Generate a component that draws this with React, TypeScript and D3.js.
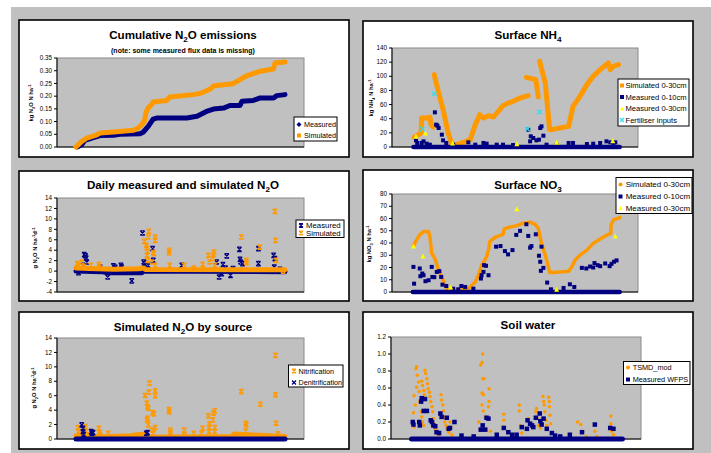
import React from 'react';
import * as d3 from 'd3';

type Pt = [number, number];
type Seg = (Pt | null)[];

// ---------- Shared x domain (day of experiment) ----------
const DAY_DOMAIN: [number, number] = [-30, 360];

// ---------- Panel 1: cumulative N2O ----------
const cumMeasured: Pt[] = [[2,0],[9,0.009],[14,0.026],[25,0.035],[38,0.045],[59,0.046],[69,0.05],[101,0.052],[106,0.058],[114,0.081],[122,0.11],[127,0.114],[175,0.114],[191,0.121],[206,0.14],[217,0.149],[233,0.153],[243,0.163],[259,0.163],[262,0.18],[280,0.183],[291,0.193],[312,0.193],[317,0.202],[330,0.206]];
const cumSimulated: Pt[] = [[0,0],[9,0.022],[17,0.035],[33,0.048],[38,0.055],[64,0.06],[91,0.066],[98,0.075],[104,0.088],[108,0.101],[111,0.14],[114,0.153],[119,0.166],[122,0.177],[143,0.183],[148,0.197],[185,0.206],[198,0.212],[212,0.228],[218,0.241],[248,0.249],[259,0.265],[269,0.28],[291,0.298],[312,0.307],[314,0.33],[330,0.334]];
const cumTicks = [0, 0.05, 0.1, 0.15, 0.2, 0.25, 0.3, 0.35];

// ---------- Panel 2: surface NH4 ----------
const nh4Simulated: Seg = [[5,13.7],[12,17.4],[16,19.8],[17,41],[25,41],[30,42.4],[32,31.6],[35,28.3],null,[37,102.3],[41,87],[51,53],[59,20],[65,3.3],[72,3.3],[88,8],[94,10.4],[102,31.6],[109,45.7],[115,41],[123,44.3],[131,42.4],[146,58.5],[152,61.3],[162,64.6],[173,69.3],[186,72.6],null,[183,98.5],[198,95.2],[202,70.7],null,[204,121.2],[213,90.5],[220,24.5],[223,24.5],[236,26.9],[250,29.2],[257,57.5],[268,71.7],[279,88.2],[289,100],[300,109.4],[313,118.8],[316,109.4],[321,114.1],[329,116.5]];
const nh4Measured10: Pt[] = [[8,9.4],[10,5.7],[17,5.7],[20,8],[25,4.7],[30,3.3],[38,49],[40,31.6],[42,30.2],[44,26.9],[49,17.4],[51,9.4],[56,5.7],[67,3.3],[91,6.6],[102,3.3],[115,5.7],[120,4.7],[136,3.3],[146,3.3],[162,2.8],[186,24.5],[189,8],[190,15.1],[194,12.7],[199,9.4],[203,10.4],[205,26.9],[207,29.2],[210,16],[215,3.3],[231,2.8],[250,5.7],[257,5.7],[279,4.2],[289,4.7],[300,5.7],[310,8],[316,6.6],[321,5.7],[324,6.6]];
const nh4Baseline10: Seg = [[4,0],[331,0]];
const nh4Measured30: Pt[] = [[8,15.1],[23,19.8],[66,5.7],[168,4.7],[231,6.6],[320,9]];
const nh4Fertiliser: Pt[] = [[18,25.5],[37,75.4],[185,25.5],[204,49.5]];
const nh4Ticks = [0, 20, 40, 60, 80, 100, 120, 140];

// ---------- Panel 3: daily N2O ----------
const dailyMeasured: Pt[] = [[4,-0.3],[11,1.1],[13,3.15],[15,2.9],[16,2.5],[17,1.74],[38,0.78],[50,-1.13],[59,1.0],[62,0.7],[71,1.1],[72,0.78],[88,-1.88],[105,7.3],[107,1.74],[108,1.42],[114,1.1],[121,4.3],[122,2.06],[167,1.1],[222,1.74],[226,-1.13],[230,-0.5],[232,1.23],[236,0.6],[238,2.9],[244,-0.81],[248,0.5],[258,4.17],[259,2.25],[260,1.74],[263,1.42],[288,1.42],[288,4.3],[312,3.0],[314,2.38],[313,0.78],[322,0.34]];
const dailyMeasuredBand: Seg = [[0,0],[40,-0.1],[50,-0.3],[104,-0.3],[106,0],[330,-0.1]];
const dailySimulated: Pt[] = [[2,1.42],[4,1.1],[9,1.74],[12,0.91],[23,1.1],[36,1.23],[37,0.78],[108,5.7],[111,4.93],[112,4.42],[113,3.78],[112,3.02],[113,2.06],[114,6.53],[115,7.6],[120,1.74],[122,3.53],[123,3.34],[125,6.53],[125,5.89],[125,1.1],[147,3.98],[147,3.53],[148,1.1],[171,1.1],[186,0.59],[200,1.3],[209,3.02],[211,1.74],[216,2.5],[217,3.15],[218,3.66],[219,1.1],[261,6.53],[269,2.06],[269,1.61],[290,4.61],[314,11.44],[315,5.89],[316,2.06],[327,0]];
const dailySimulatedBand: Seg = [[0,0.6],[20,0.5],[60,0.35],[100,0.45],[106,0.6],[110,0.3],[330,0.25]];
const dailyTicks = [-4, -2, 0, 2, 4, 6, 8, 10, 12, 14];

// ---------- Panel 4: surface NO3 ----------
const no3Simulated: Seg = [[4,37.8],[9,42.5],[14,46.6],[20,49.3],[28,49.3],[30,45.2],[33,31.5],[38,27.4],[43,19.2],[49,12.3],[54,5.5],[58,2.2],[65,1.4],[78,1.4],[88,2.2],[94,4.1],[102,8.2],[107,13.7],[112,21.9],[117,26],[120,28.8],[123,34.2],[125,41.1],[131,43.8],[136,45.2],[146,47.1],[148,51.5],[154,52.6],[168,54.2],[178,56.2],[189,57],[197,55.3],[202,52],[207,39.7],[213,30.1],[218,20.5],[220,15.9],[226,15.9],[250,17],[255,20.5],[260,26],[268,30.1],[279,34.2],[289,39.7],[300,43.3],[313,47.1],[317,47.9],[317,54.2],[321,58.9],[331,60.8]];
const no3Measured10: Pt[] = [[4,20.5],[5,6.8],[14,19.2],[15,12.9],[18,15.1],[20,13.7],[23,8.8],[28,9.6],[33,20.5],[34,12.3],[37,12.1],[41,16.4],[45,17],[48,12.3],[50,6],[56,4.9],[67,2.7],[75,2.2],[80,4.9],[86,4.1],[99,2.7],[111,11],[112,13.7],[115,16.4],[116,21.9],[119,21.4],[123,13.7],[135,37],[142,37.5],[149,33.4],[154,30.7],[161,34.2],[167,46.6],[173,49.9],[183,55.3],[186,45.8],[189,36.2],[191,37.5],[198,47.1],[203,29.6],[205,24.7],[206,17.3],[207,37],[210,19.7],[216,7.7],[222,2.2],[242,3.3],[252,6.3],[259,4.1],[271,19.7],[278,19.2],[284,20.8],[289,20],[291,23.6],[296,21.9],[300,21.1],[308,23.3],[315,21.1],[318,23],[322,24.7],[326,25.8]];
const no3Baseline10: Seg = [[3,0],[331,0]];
const no3Measured30: Pt[] = [[4,37.5],[19,29.3],[63,4.1],[168,67.9],[231,2.2],[324,45.8]];
const no3Ticks = [0, 10, 20, 30, 40, 50, 60, 70, 80];

// ---------- Panel 5: simulated N2O by source ----------
const nitrification: Pt[] = [[3,1.58],[4,1.02],[6,0.65],[15,1.72],[16,1.11],[17,0.56],[36,1.48],[37,0.93],[38,0.56],[51,0.79],[109,6.03],[112,4.96],[113,4.5],[114,4.27],[113,2.87],[112,2.64],[114,1.95],[115,6.49],[116,7.74],[120,1.25],[121,3.66],[123,3.48],[125,6.68],[125,5.98],[125,1.58],[122,0.79],[147,4.08],[147,3.8],[149,1.25],[149,0.93],[171,1.25],[171,0.56],[186,0.79],[198,0.79],[200,1.48],[209,3.2],[210,1.58],[210,1.02],[211,2.09],[216,2.64],[217,3.57],[219,3.89],[219,1.02],[219,1.58],[261,6.58],[268,1.11],[268,2.18],[269,1.95],[291,4.82],[315,11.59],[315,6.12],[316,2.18],[319,0.7]];
const nitrificationBand: Seg = [[0,0.4],[45,0.3],[88,0.45],[95,0.6],[108,0.65],[112,0.25],[245,0.35],[250,0.7],[280,0.55],[330,0.35]];
const denitrification: Pt[] = [[9,1.95],[11,1.48],[11,1.02],[12,0.65],[24,1.02],[25,0.79],[27,0.88],[111,0.79],[113,0.88]];
const denitrificationBand: Seg = [[0,0],[330,0]];
const sourceTicks = [0, 2, 4, 6, 8, 10, 12, 14];

// ---------- Panel 6: soil water ----------
const tsmdMod: Pt[] = [[5,0.31],[6,0.14],[6,0.51],[8,0.4],[9,0.83],[10,0.85],[10,0.61],[11,0.75],[13,0.67],[14,0.56],[15,0.44],[17,0.32],[18,0.26],[19,0.2],[21,0.16],[18,0.68],[19,0.63],[21,0.57],[22,0.52],[23,0.81],[24,0.77],[26,0.71],[27,0.65],[28,0.59],[30,0.55],[31,0.5],[32,0.44],[34,0.38],[35,0.32],[36,0.24],[37,0.18],[39,0.14],[40,0.11],[42,0.07],[44,0.05],[48,0.52],[49,0.46],[51,0.4],[52,0.33],[53,0.26],[54,0.2],[56,0.16],[57,0.12],[60,0.08],[62,0.2],[63,0.14],[65,0.05],[107,0.2],[110,0.87],[112,0.9],[113,1.0],[112,0.54],[114,0.52],[113,0.71],[115,0.71],[112,0.4],[114,0.33],[117,0.26],[118,0.12],[122,0.38],[123,0.44],[123,0.59],[125,0.09],[146,0.22],[146,0.29],[145,0.14],[170,0.4],[170,0.33],[172,0.16],[174,0.07],[184,0.24],[186,0.18],[196,0.32],[197,0.36],[198,0.24],[200,0.16],[203,0.13],[207,0.5],[208,0.44],[209,0.4],[210,0.32],[212,0.22],[213,0.16],[216,0.49],[217,0.44],[217,0.38],[218,0.28],[219,0.18],[221,0.07],[261,0.2],[266,0.17],[268,0.09],[275,0.03],[288,0.09],[291,0.03],[313,0.27],[313,0.18],[314,0.09],[317,0.05]];
const measuredWfps: Pt[] = [[4,0.2],[5,0.17],[14,0.2],[15,0.16],[17,0.44],[18,0.48],[21,0.33],[23,0.47],[26,0.33],[32,0.22],[34,0.2],[36,0.16],[39,0.15],[41,0.08],[45,0.07],[47,0.3],[49,0.26],[57,0.25],[60,0.12],[62,0.13],[69,0.2],[80,0.04],[99,0.03],[110,0.11],[113,0.16],[117,0.11],[119,0.25],[122,0.24],[135,0.05],[146,0.13],[153,0.08],[159,0.05],[166,0.05],[174,0.14],[182,0.12],[183,0.22],[187,0.18],[190,0.16],[192,0.14],[196,0.25],[202,0.3],[203,0.21],[205,0.17],[208,0.24],[213,0.12],[221,0.07],[226,0.04],[234,0.03],[249,0.05],[268,0.08],[288,0.17],[312,0.13],[317,0.12]];
const wfpsBaseline: Seg = [[2,0],[331,0]];
const waterTicks = [0, 0.2, 0.4, 0.6, 0.8, 1.0, 1.2];

// ---------- styling ----------
const FONT = "'Liberation Sans', Arial, Helvetica, sans-serif";
const ORANGE = '#FF9900';
const NAVY = '#000080';
const YELLOW = '#FFFF00';
const CYAN = '#33DDEE';
const GREY = '#C0C0C0';

type Shape = 'square' | 'diamond' | 'triangle' | 'x' | 'star' | 'circle';
type Part = [string, 'n' | 'sub' | 'sup'];
type Series =
  | { kind: 'line'; data: Seg; color: string; width: number }
  | { kind: 'marks'; data: Pt[]; color: string; shape: Shape; size: number };
type LegendEntry = { label: string; shape: Shape; color: string };

interface PanelCfg {
  frame: { x: number; y: number; w: number; h: number };
  plot: { x0: number; x1: number; y0: number; y1: number };
  yDomain: [number, number];
  ticks: number[];
  fmt: (v: number) => string;
  title: Part[];
  titlePos: [number, number];
  subtitle?: string;
  subtitlePos?: [number, number];
  yLabel?: Part[];
  yLabelPos?: [number, number];
  series: Series[];
  legend: { x: number; y: number; w: number; h: number; rows: number[]; mx: number; tx: number; fs: number; entries: LegendEntry[] };
}

function Marker({ shape, x, y, s, color }: { shape: Shape; x: number; y: number; s: number; color: string }) {
  const h = s / 2;
  switch (shape) {
    case 'square':
      return <rect x={x - h} y={y - h} width={s} height={s} fill={color} />;
    case 'diamond':
      return <path d={`M${x},${y - h - 0.5}L${x + h + 0.5},${y}L${x},${y + h + 0.5}L${x - h - 0.5},${y}Z`} fill={color} />;
    case 'triangle':
      return <path d={`M${x},${y - h}L${x + h},${y + h}L${x - h},${y + h}Z`} fill={color} />;
    case 'circle':
      return <circle cx={x} cy={y} r={h} fill={color} />;
    case 'x':
      return <path d={`M${x - h},${y - h}L${x + h},${y + h}M${x + h},${y - h}L${x - h},${y + h}`} stroke={color} strokeWidth={1.3} fill="none" />;
    case 'star':
      return <path d={`M${x - h},${y - h}L${x + h},${y + h}M${x + h},${y - h}L${x - h},${y + h}M${x - h},${y - h}L${x + h},${y - h}M${x - h},${y + h}L${x + h},${y + h}`} stroke={color} strokeWidth={1.2} fill="none" />;
  }
  return null;
}

function Rich({ x, y, parts, fs, bold, rotate }: { x: number; y: number; parts: Part[]; fs: number; bold?: boolean; rotate?: boolean }) {
  let cur = 0;
  const spans = parts.map((p, i) => {
    const target = p[1] === 'sub' ? fs * 0.3 : p[1] === 'sup' ? -fs * 0.4 : 0;
    const dy = target - cur;
    cur = target;
    return (
      <tspan key={i} dy={dy} fontSize={p[1] === 'n' ? fs : fs * 0.7}>
        {p[0]}
      </tspan>
    );
  });
  return (
    <text
      x={x}
      y={y}
      fontFamily={FONT}
      fontSize={fs}
      fontWeight={bold ? 'bold' : 'normal'}
      textAnchor="middle"
      transform={rotate ? `rotate(-90 ${x} ${y})` : undefined}
    >
      {spans}
    </text>
  );
}

function Panel({ cfg }: { cfg: PanelCfg }) {
  const { frame, plot } = cfg;
  const x = d3.scaleLinear().domain(DAY_DOMAIN).range([plot.x0, plot.x1]);
  const y = d3.scaleLinear().domain(cfg.yDomain).range([plot.y1, plot.y0]);
  const line = d3
    .line<Pt | null>()
    .defined((d) => d !== null)
    .x((d) => x((d as Pt)[0]))
    .y((d) => y((d as Pt)[1]));
  const lg = cfg.legend;
  return (
    <g>
      <rect x={frame.x} y={frame.y} width={frame.w} height={frame.h} fill="#fff" stroke="#000" strokeWidth={1.6} />
      <rect x={plot.x0} y={plot.y0} width={plot.x1 - plot.x0} height={plot.y1 - plot.y0} fill={GREY} stroke="#8a8a8a" strokeWidth={1} />
      <line x1={plot.x0} x2={plot.x0} y1={plot.y0} y2={plot.y1} stroke="#000" strokeWidth={1} />
      <line x1={plot.x0} x2={plot.x1} y1={plot.y1} y2={plot.y1} stroke="#000" strokeWidth={1} />
      {cfg.ticks.map((t) => (
        <g key={t}>
          <line x1={plot.x0 - 3} x2={plot.x0} y1={y(t)} y2={y(t)} stroke="#000" strokeWidth={1} />
          <text x={plot.x0 - 5} y={y(t)} dy="0.35em" textAnchor="end" fontFamily={FONT} fontSize={6.3}>
            {cfg.fmt(t)}
          </text>
        </g>
      ))}
      {cfg.series.map((s, i) =>
        s.kind === 'line' ? (
          <path key={i} d={line(s.data) || ''} fill="none" stroke={s.color} strokeWidth={s.width} strokeLinejoin="round" strokeLinecap="round" />
        ) : (
          <g key={i}>
            {s.data.map((d, j) => (
              <Marker key={j} shape={s.shape} x={x(d[0])} y={y(d[1])} s={s.size} color={s.color} />
            ))}
          </g>
        )
      )}
      <Rich x={cfg.titlePos[0]} y={cfg.titlePos[1]} parts={cfg.title} fs={11.6} bold />
      {cfg.subtitle && cfg.subtitlePos && (
        <text x={cfg.subtitlePos[0]} y={cfg.subtitlePos[1]} textAnchor="middle" fontFamily={FONT} fontSize={7} fontWeight="bold">
          {cfg.subtitle}
        </text>
      )}
      {cfg.yLabel && cfg.yLabelPos && <Rich x={cfg.yLabelPos[0]} y={cfg.yLabelPos[1]} parts={cfg.yLabel} fs={5.8} bold rotate />}
      <rect x={lg.x} y={lg.y} width={lg.w} height={lg.h} fill="#fff" stroke="#000" strokeWidth={1} />
      {lg.entries.map((e, i) => (
        <g key={i}>
          <Marker shape={e.shape} x={lg.mx} y={lg.rows[i]} s={4} color={e.color} />
          <text x={lg.tx} y={lg.rows[i]} dy="0.35em" fontFamily={FONT} fontSize={lg.fs}>
            {e.label}
          </text>
        </g>
      ))}
    </g>
  );
}

const fmt2 = (v: number) => v.toFixed(2);
const fmt1 = (v: number) => v.toFixed(1);
const fmt0 = (v: number) => String(v);

const panels: PanelCfg[] = [
  {
    frame: { x: 19, y: 20, w: 330, h: 137 },
    plot: { x0: 57, x1: 304, y0: 58, y1: 147 },
    yDomain: [0, 0.35],
    ticks: cumTicks,
    fmt: fmt2,
    title: [['Cumulative N', 'n'], ['2', 'sub'], ['O emissions', 'n']],
    titlePos: [183, 39],
    subtitle: '(note: some measured flux data is missing)',
    subtitlePos: [183, 53],
    yLabel: [['kg N', 'n'], ['2', 'sub'], ['O N ha', 'n'], ['-1', 'sup']],
    yLabelPos: [33, 103],
    series: [
      { kind: 'line', data: cumMeasured, color: NAVY, width: 5 },
      { kind: 'line', data: cumSimulated, color: ORANGE, width: 5 },
    ],
    legend: {
      x: 294, y: 117, w: 43, h: 24, rows: [124.5, 135.5], mx: 299, tx: 304, fs: 7.2,
      entries: [
        { label: 'Measured', shape: 'diamond', color: NAVY },
        { label: 'Simulated', shape: 'square', color: ORANGE },
      ],
    },
  },
  {
    frame: { x: 363, y: 21, w: 330, h: 136 },
    plot: { x0: 392, x1: 638, y0: 48, y1: 147 },
    yDomain: [0, 140],
    ticks: nh4Ticks,
    fmt: fmt0,
    title: [['Surface NH', 'n'], ['4', 'sub']],
    titlePos: [528, 39],
    yLabel: [['kg NH', 'n'], ['4', 'sub'], [' N ha', 'n'], ['-1', 'sup']],
    yLabelPos: [373, 98],
    series: [
      { kind: 'line', data: nh4Simulated, color: ORANGE, width: 5 },
      { kind: 'line', data: nh4Baseline10, color: NAVY, width: 4.5 },
      { kind: 'marks', data: nh4Measured10, color: NAVY, shape: 'square', size: 4 },
      { kind: 'marks', data: nh4Measured30, color: YELLOW, shape: 'triangle', size: 5 },
      { kind: 'marks', data: nh4Fertiliser, color: CYAN, shape: 'x', size: 4.5 },
    ],
    legend: {
      x: 618, y: 79, w: 71, h: 47, rows: [85.5, 97, 108.5, 120], mx: 622, tx: 625.5, fs: 7.6,
      entries: [
        { label: 'Simulated 0-30cm', shape: 'square', color: ORANGE },
        { label: 'Measured 0-10cm', shape: 'square', color: NAVY },
        { label: 'Measured 0-30cm', shape: 'triangle', color: YELLOW },
        { label: 'Fertiliser inputs', shape: 'x', color: CYAN },
      ],
    },
  },
  {
    frame: { x: 19, y: 171, w: 330, h: 130 },
    plot: { x0: 57, x1: 304, y0: 198, y1: 292 },
    yDomain: [-4, 14],
    ticks: dailyTicks,
    fmt: fmt0,
    title: [['Daily measured and simulated N', 'n'], ['2', 'sub'], ['O', 'n']],
    titlePos: [183, 189],
    yLabel: [['g N', 'n'], ['2', 'sub'], ['O N ha', 'n'], ['-1', 'sup'], ['d', 'n'], ['-1', 'sup']],
    yLabelPos: [37, 248],
    series: [
      { kind: 'line', data: dailyMeasuredBand, color: NAVY, width: 5 },
      { kind: 'marks', data: dailyMeasured, color: NAVY, shape: 'star', size: 4.5 },
      { kind: 'line', data: dailySimulatedBand, color: ORANGE, width: 5 },
      { kind: 'marks', data: dailySimulated, color: ORANGE, shape: 'star', size: 4.5 },
    ],
    legend: {
      x: 296, y: 220, w: 48, h: 17.5, rows: [225.5, 233], mx: 301, tx: 306, fs: 7.8,
      entries: [
        { label: 'Measured', shape: 'star', color: NAVY },
        { label: 'Simulated', shape: 'star', color: ORANGE },
      ],
    },
  },
  {
    frame: { x: 363, y: 170, w: 330, h: 131 },
    plot: { x0: 392, x1: 638, y0: 194, y1: 292 },
    yDomain: [0, 80],
    ticks: no3Ticks,
    fmt: fmt0,
    title: [['Surface NO', 'n'], ['3', 'sub']],
    titlePos: [528, 189],
    yLabel: [['kg NO', 'n'], ['3', 'sub'], [' N ha', 'n'], ['-1', 'sup']],
    yLabelPos: [371, 244],
    series: [
      { kind: 'line', data: no3Simulated, color: ORANGE, width: 3.5 },
      { kind: 'line', data: no3Baseline10, color: NAVY, width: 4.5 },
      { kind: 'marks', data: no3Measured10, color: NAVY, shape: 'square', size: 4 },
      { kind: 'marks', data: no3Measured30, color: YELLOW, shape: 'triangle', size: 5 },
    ],
    legend: {
      x: 616, y: 177.5, w: 76, h: 36, rows: [184.5, 196.5, 208], mx: 620.5, tx: 625.7, fs: 8,
      entries: [
        { label: 'Simulated 0-30cm', shape: 'circle', color: ORANGE },
        { label: 'Measured 0-10cm', shape: 'square', color: NAVY },
        { label: 'Measured 0-30cm', shape: 'triangle', color: YELLOW },
      ],
    },
  },
  {
    frame: { x: 19, y: 312, w: 330, h: 137 },
    plot: { x0: 57, x1: 304, y0: 338, y1: 439 },
    yDomain: [0, 14],
    ticks: sourceTicks,
    fmt: fmt0,
    title: [['Simulated N', 'n'], ['2', 'sub'], ['O by source', 'n']],
    titlePos: [183, 331],
    yLabel: [['g N', 'n'], ['2', 'sub'], ['O N ha', 'n'], ['-1', 'sup'], ['d', 'n'], ['-1', 'sup']],
    yLabelPos: [36, 388],
    series: [
      { kind: 'line', data: nitrificationBand, color: ORANGE, width: 5 },
      { kind: 'marks', data: nitrification, color: ORANGE, shape: 'star', size: 4.5 },
      { kind: 'line', data: denitrificationBand, color: NAVY, width: 5 },
      { kind: 'marks', data: denitrification, color: NAVY, shape: 'star', size: 4.5 },
    ],
    legend: {
      x: 288.5, y: 365, w: 54.5, h: 22, rows: [371, 382.5], mx: 294, tx: 298.5, fs: 7.2,
      entries: [
        { label: 'Nitrification', shape: 'star', color: ORANGE },
        { label: 'Denitrification', shape: 'x', color: NAVY },
      ],
    },
  },
  {
    frame: { x: 363, y: 312, w: 330, h: 137 },
    plot: { x0: 391, x1: 641, y0: 337, y1: 439 },
    yDomain: [0, 1.2],
    ticks: waterTicks,
    fmt: fmt1,
    title: [['Soil water', 'n']],
    titlePos: [528, 329],
    series: [
      { kind: 'marks', data: tsmdMod, color: ORANGE, shape: 'circle', size: 3.5 },
      { kind: 'line', data: wfpsBaseline, color: NAVY, width: 5 },
      { kind: 'marks', data: measuredWfps, color: NAVY, shape: 'square', size: 4.5 },
    ],
    legend: {
      x: 623.5, y: 361.5, w: 66.5, h: 23, rows: [367.5, 379.5], mx: 628, tx: 632.7, fs: 7.3,
      entries: [
        { label: 'TSMD_mod', shape: 'circle', color: ORANGE },
        { label: 'Measured WFPS', shape: 'square', color: NAVY },
      ],
    },
  },
];

export default function App() {
  return (
    <svg width={711} height={453} style={{ position: 'absolute', left: 0, top: 0, display: 'block' }}>
      <rect x={0} y={0} width={711} height={453} fill="#fff" />
      <rect x={11} y={7} width={700} height={446} fill={GREY} />
      {panels.map((p, i) => (
        <Panel key={i} cfg={p} />
      ))}
    </svg>
  );
}
